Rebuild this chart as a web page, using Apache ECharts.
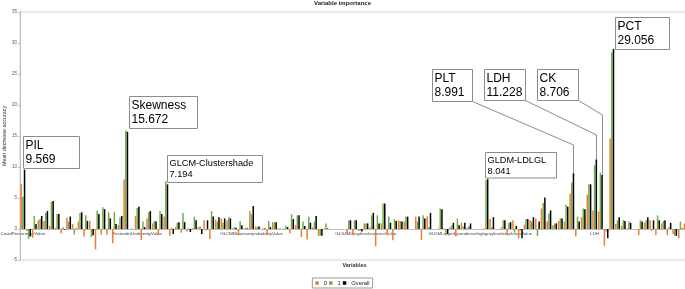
<!DOCTYPE html>
<html>
<head>
<meta charset="utf-8">
<script src="https://cdn.jsdelivr.net/npm/echarts@6/dist/echarts.min.js"></script>
<style>
    html, body { margin: 0; padding: 0; background: #fff; }
    #chart { width: 685px; height: 289px; }
</style>
</head>
<body>
<div id="chart"></div>
<script>
// axis labels shown every 20th variable
let tickLabels = ['CovidPercentageValue', 'FirstorderUniformityValue', 'GLCMMaximumprobabilityValue',
    'GLSZMGraylevelvarianceValue', 'GLDMLargedependencehighgraylevelemphasisValue', 'LDH'];

// class "0"
let class0 = [
    7.2, -0.3, -1.4, 1.4, 1.3, 0.5, 0.2, -0.7, 1.8, 0.8,
    1.2, -1.2, 1.3, -3.3, -0.9, -0.9, -2.3, 0.6, 8.0, 0.0,
    2.1, -1.8, 1.7, 0.9, -1.0, 2.0, -1.1, 0.3, -0.6, -0.4,
    0.1, 0.3, 1.4, -1.6, 1.5, 1.7, 1.4, 0.1, -1.0, 0.1,
    2.9, 0.4, 0.0, -1.0, 1.1, 0.1, 0.1, -0.7, 0.6, -1.3,
    -1.7, 0.3, -1.1, 0.1, 0, 0, 0, -0.8, -1.0, -0.3,
    0.9, 0.3, -2.8, 0.9, -1.0, -1.8, 1.4, 1.2, 0, 2.0,
    -1.8, 2.0, 0, 0.1, 0.1, 0.3, -1.2, 1.0, 0.2, 0,
    0, 0.1, 1.6, 0, 0.3, -1.0, 1.4, -1.5, 0.7, 1.4,
    1.7, 3.3, 1.2, 0.6, 1.3, 1.2, 5.7, -1.2, 1.9, 5.5,
    3.0, 2.8, -2.7, 14.6, 0.8, 0.5, 0.1, 0, -1.0, 1.0,
    1.4, -1.0, 0.9, -1.0, -0.8, -1.5, 0.9
];
// class "1"
let class1 = [
    5.2, -1.6, 2.1, 1.6, 2.6, 4.4, 2.4, 0.3, 1.2, -0.9,
    2.6, 2.2, -1.3, 3.0, 3.5, 2.7, 2.7, 1.9, 15.9, 0.1,
    3.4, 1.2, 2.7, 1.3, 2.9, 7.7, 0.2, 1.0, 2.6, 0.1,
    2.0, 0.4, -0.2, 2.9, 1.2, 1.0, 1.9, 0.3, 1.3, 0.2,
    2.4, 0.3, 0.1, 1.3, 1.1, 0.1, 0.5, 2.4, 2.2, 1.2,
    2.0, 1.2, -1.1, 0.9, 0, 0, 0, 1.4, 1.4, -0.3,
    0.9, 2.2, 2.2, 4.1, 2.0, 1.6, 1.3, 2.0, 0, 1.2,
    2.2, 0.3, 0, 3.3, -1.0, 0.6, 1.7, 0.4, 0.5, 0,
    0, 7.9, 0.3, 0, 1.4, 1.0, -0.6, -0.3, 1.6, 1.2,
    -1.1, 4.2, 2.5, 0.9, 1.7, 3.9, 7.5, 2.0, 3.3, 7.2,
    10.3, 9.1, -0.4, 28.5, 1.4, 1.4, 1.2, 0, 1.4, 1.4,
    -0.3, 2.2, 1.3, 0.3, -1.1, 1.2, 1.7
];
// overall
let overall = [
    9.569, -1.2, 0.8, 2.1, 2.9, 4.5, 2.4, -0.1, 2.0, 0.1,
    2.7, 1.3, -1.0, 2.4, 3.2, 1.7, 0.8, 2.1, 15.672, 0.0,
    3.6, 0.3, 2.9, 1.2, 2.4, 7.194, -0.8, 1.1, 1.1, -0.5,
    1.4, -0.8, 1.4, 2.0, 1.9, 1.7, 1.7, 0.2, 0.6, 0.1,
    3.7, 0.4, 0.1, 0.3, 1.1, 0.0, 0.3, 1.6, 2.2, 0.5,
    1.0, 2.1, -1.1, 0.1, 0, 0, 0, 1.4, 1.4, -0.4,
    0.9, 2.6, 0.9, 4.1, 1.0, 1.3, 1.2, 2.0, 0, 2.0,
    1.7, 2.6, 0, 3.2, -0.8, 1.0, 0.6, 1.0, 0.9, 0,
    0, 8.041, 1.9, 0, 1.4, 1.1, 0.5, -1.5, 1.6, 1.9,
    1.2, 5.1, 3.0, 0.9, 1.7, 3.6, 8.991, 1.2, 3.2, 7.2,
    11.228, 8.706, -1.5, 29.056, 1.9, 1.3, 1.0, 0, 1.2, 1.9,
    1.4, 1.4, 1.4, 1.0, -1.1, 0.1, 1.7
];

// labelled variables (index into the categories)
let noteIdx = [0, 18, 25, 81, 96, 100, 101, 103];
let noteName = ['PIL', 'Skewness', 'GLCM-Clustershade', 'GLDM-LDLGL', 'PLT', 'LDH', 'CK', 'PCT'];

let categories = overall.map((v, i) => i % 20 === 0 ? tickLabels[i / 20] : 'Var' + (i + 1));

// box layout relative to the top of the Overall bar: dx, dy, w, h, font, lineHeight, elbow
let noteBox = [
    [-2.4, -33.7, 56, 32, 12, 14, null],
    [1, -36, 68, 32, 12, 14, null],
    [-0.7, -29.4, 95, 27, 9.2, 11, null],
    [-3.4, -26.8, 71, 25.5, 9.2, 11, null],
    [-141.2, -104.3, 40, 32, 12, 14, -28.3],
    [-112.1, -90.4, 41, 31, 12, 14, -24.4],
    [-65.4, -106, 41, 31, 12, 14, -60],
    [1.5, -31.6, 54, 32, 12, 14, null]
];

let FONT = '"Liberation Sans", Arial, sans-serif';
let BAR_W = 1.5;
let blackShift = BAR_W * 1.12;

let Y_MIN = -5, Y_MAX = 35;
let GRID = { left: 20, right: -4, top: 12, bottom: 29 };
// lift the category axis up to the zero line
let zeroOffset = -(0 - Y_MIN) / (Y_MAX - Y_MIN) * (289 - GRID.top - GRID.bottom);

let barSeries = (name, data, color) => ({
    name,
    type: 'bar',
    data,
    barWidth: BAR_W,
    barGap: '12%',
    itemStyle: { color },
    silent: true
});

let option = {
    animation: false,
    backgroundColor: '#fff',
    textStyle: { fontFamily: FONT },
    title: {
        text: 'Variable importance',
        left: 'center',
        top: 0,
        padding: 0,
        textStyle: { fontSize: 6, fontWeight: 'bold', color: '#222', fontFamily: FONT }
    },
    legend: {
        data: ['0', '1', 'Overall'],
        bottom: 1,
        left: 'center',
        icon: 'rect',
        itemWidth: 3.5,
        itemHeight: 3.5,
        itemGap: 2,
        padding: [2, 3],
        borderColor: '#9a9a9a',
        borderWidth: 1,
        textStyle: { fontSize: 5.8, color: '#222', fontFamily: FONT }
    },
    grid: Object.assign({
        outerBoundsMode: 'none',
        containLabel: false,
        show: true,
        borderColor: '#d6d6d6',
        borderWidth: 1
    }, GRID),
    xAxis: {
        type: 'category',
        data: categories,
        offset: zeroOffset,
        name: 'Variables',
        nameLocation: 'middle',
        nameGap: 33,
        nameMoveOverlap: false,
        nameTextStyle: { fontSize: 5.5, fontWeight: 'bold', color: '#333', fontFamily: FONT },
        axisLine: { onZero: false, lineStyle: { color: '#bdbdbd', width: 1 } },
        axisTick: { interval: 0, length: 2, lineStyle: { color: '#bdbdbd' } },
        axisLabel: { interval: 19, fontSize: 4.4, color: '#404040', margin: 3, fontFamily: FONT }
    },
    yAxis: {
        type: 'value',
        min: Y_MIN,
        max: Y_MAX,
        interval: 5,
        name: 'Mean decrease accuracy',
        nameLocation: 'middle',
        nameGap: 13,
        nameMoveOverlap: false,
        nameTextStyle: { fontSize: 5.4, color: '#333', fontFamily: FONT },
        axisLine: { show: true, lineStyle: { color: '#bdbdbd' } },
        axisTick: { show: true, length: 2, lineStyle: { color: '#bdbdbd' } },
        axisLabel: { fontSize: 4.5, color: '#595959', margin: 3, fontFamily: FONT },
        splitLine: { show: false }
    },
    series: [
        barSeries('0', class0, '#ED7D31'),
        barSeries('1', class1, '#70AD47'),
        barSeries('Overall', overall, '#000000'),
        {
            type: 'custom',
            name: 'notes',
            z: 10,
            silent: true,
            clip: false,
            encode: { x: 0, y: 1 },
            data: noteIdx.map(i => [i, overall[i]]),
            renderItem: function (params, api) {
                let k = params.dataIndex;
                let p = api.coord([api.value(0), api.value(1)]);
                let bx = Math.round(p[0] + blackShift) + 0.5;
                let by = p[1];
                let L = noteBox[k];
                let x0 = Math.round(bx + L[0]) + 0.5;
                let y0 = Math.round(by + L[1]) + 0.5;
                let kids = [];
                if (L[6] !== null) {
                    kids.push({
                        type: 'polyline',
                        shape: { points: [[x0 + L[2], y0 + L[3]], [bx, by + L[6]], [bx, by]] },
                        style: { stroke: '#6e6e6e', lineWidth: 0.8, fill: null }
                    });
                }
                kids.push({
                    type: 'rect',
                    shape: { x: x0, y: y0, width: L[2], height: L[3] },
                    style: { fill: '#fff', stroke: '#8c8c8c', lineWidth: 1 }
                });
                kids.push({
                    type: 'text',
                    style: {
                        text: noteName[k] + '\n' + api.value(1).toFixed(3),
                        x: x0 + 2,
                        y: y0 + 2,
                        fontSize: L[4],
                        fontFamily: FONT,
                        lineHeight: L[5],
                        fill: '#000',
                        align: 'left',
                        verticalAlign: 'top'
                    }
                });
                return { type: 'group', children: kids };
            }
        }
    ]
};

let chart = echarts.init(document.getElementById('chart'), null, { renderer: 'canvas' });
chart.setOption(option);
</script>
</body>
</html>
